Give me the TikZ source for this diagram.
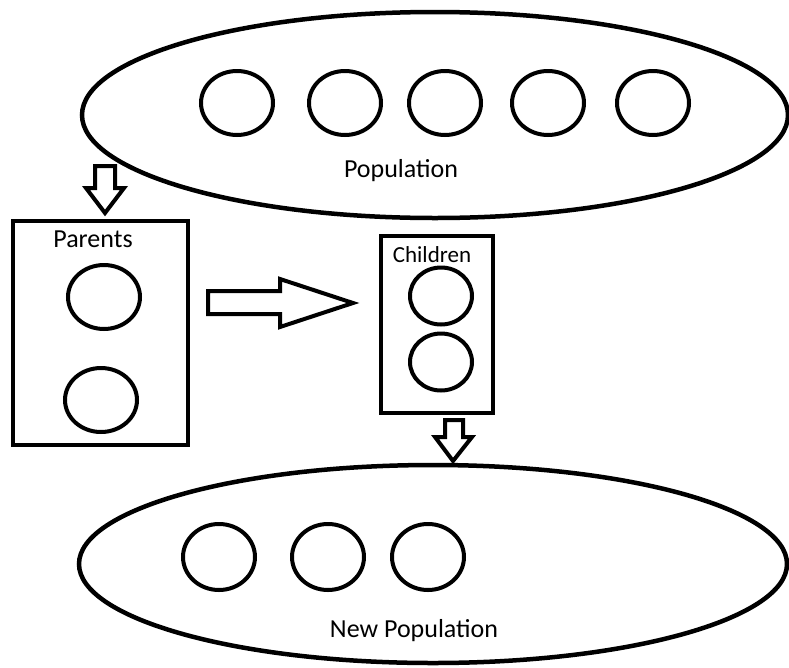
\documentclass[tikz,border=0pt]{standalone}
\usepackage{fontspec}
\setmainfont{Carlito}
\usetikzlibrary{shapes.geometric}
\begin{document}
\begin{tikzpicture}[x=1pt,y=-1pt,
  outline/.style={draw=black,line width=4.5pt},
  pool/.style={outline,ellipse,inner sep=0pt},
  indiv/.style={draw=black,line width=4pt,ellipse,inner sep=0pt,minimum width=72pt,minimum height=64pt},
  smallindiv/.style={indiv,minimum width=62pt,minimum height=57pt},
  group/.style={draw=black,line width=4.5pt,rectangle,inner sep=0pt},
  lbl/.style={font=\fontsize{26}{30}\selectfont,anchor=base,inner sep=0pt},
  smalllbl/.style={font=\fontsize{23}{27}\selectfont,anchor=base,inner sep=0pt},
  blockarrow/.style={draw=black,line width=4pt,fill=white,line join=miter}
]
\useasboundingbox (0,0) rectangle (789,667);

% current population
\node[pool,minimum width=706pt,minimum height=206pt] (pop) at (435,115) {};
\foreach \i/\x in {1/237,2/345,3/445,4/548,5/653}
  \node[indiv] (p\i) at (\x,103) {};
\node[lbl] (poplbl) at (401,177) {Population};

% selected parents
\node[group,minimum width=175pt,minimum height=224pt] (parents) at (100.5,333) {};
\node[lbl] (parlbl) at (93,247) {Parents};
\node[indiv] (pa1) at (104,297) {};
\node[indiv] (pa2) at (101,400) {};

% offspring
\node[group,minimum width=112pt,minimum height=177pt] (children) at (437,324.5) {};
\node[smalllbl] (chlbl) at (432,262) {Children};
\node[smallindiv] (c1) at (441,296) {};
\node[smallindiv] (c2) at (441,362) {};

% next generation
\node[pool,minimum width=708pt,minimum height=198pt] (newpop) at (433,564) {};
\foreach \i/\x in {1/219,2/328,3/428}
  \node[indiv,minimum height=66pt] (n\i) at (\x,557) {};
\node[lbl] (newlbl) at (414,637) {New Population};

% block arrows between the stages
\draw[blockarrow] (95,166) -- (115,166) -- (115,188) -- (124,188) -- (105,213)
  -- (86,188) -- (95,188) -- cycle;
\draw[blockarrow] (208,291) -- (280,291) -- (280,279) -- (353,303) -- (280,327)
  -- (280,314) -- (208,314) -- cycle;
\draw[blockarrow] (445,420) -- (463,420) -- (463,437) -- (472,437) -- (453,461)
  -- (435,437) -- (445,437) -- cycle;
\end{tikzpicture}
\end{document}
